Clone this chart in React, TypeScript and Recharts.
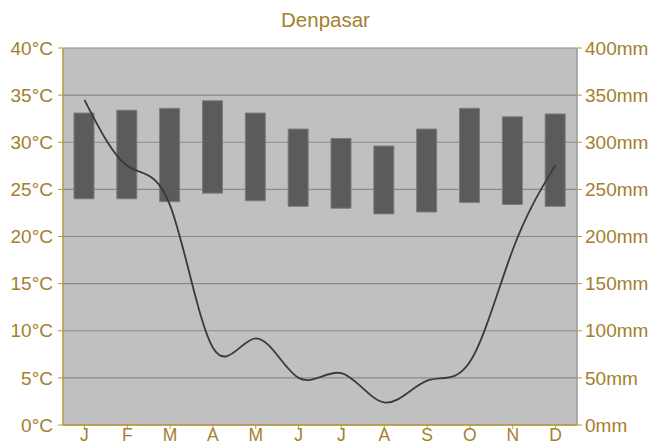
import React from 'react';
import { ComposedChart, Bar, Line, XAxis, YAxis, CartesianGrid } from 'recharts';

const months = ['J', 'F', 'M', 'A', 'M', 'J', 'J', 'A', 'S', 'O', 'N', 'D'];
const tempMax = [33.1, 33.4, 33.6, 34.4, 33.1, 31.4, 30.4, 29.6, 31.4, 33.6, 32.7, 33.0];
const tempMin = [24.0, 24.0, 23.7, 24.6, 23.8, 23.2, 23.0, 22.4, 22.6, 23.6, 23.4, 23.2];
const precipitation = [345, 275, 233, 82, 92, 50, 55, 24, 47, 67, 186, 276];
const tempTicks = [0, 5, 10, 15, 20, 25, 30, 35, 40];
const precipTicks = [0, 50, 100, 150, 200, 250, 300, 350, 400];

const data = months.map((m, i) => ({
  month: m,
  range: [tempMin[i], tempMax[i]],
  precip: precipitation[i],
}));

const GOLD = '#a3802e';
const AXIS = '#b8983f';
const FONT = '"Liberation Sans", Arial, sans-serif';

export default function App() {
  return (
    <div style={{ position: 'absolute', left: 0, top: 0, width: 651, height: 444, fontFamily: FONT }}>
      <div
        style={{
          position: 'absolute',
          left: 0,
          top: 8,
          width: 651,
          textAlign: 'center',
          color: GOLD,
          fontSize: 20.5,
          fontFamily: FONT,
          lineHeight: '24px',
        }}
      >
        Denpasar
      </div>
      <ComposedChart
        width={651}
        height={444}
        data={data}
        margin={{ top: 48, right: 0, bottom: 0, left: 0 }}
        barCategoryGap={0}
      >
        <CartesianGrid
          yAxisId="temp"
          vertical={false}
          fill="#c0c0c0"
          fillOpacity={1}
          stroke="#8a8a8a"
          strokeWidth={1.2}
        />
        <XAxis
          dataKey="month"
          height={19}
          tickSize={4}
          tickMargin={0}
          interval={0}
          axisLine={{ stroke: AXIS, strokeWidth: 1.5 }}
          tickLine={{ stroke: AXIS }}
          tick={{ fill: GOLD, fontSize: 17.5, fontFamily: FONT }}
        />
        <YAxis
          yAxisId="temp"
          orientation="left"
          width={63}
          domain={[0, 40]}
          ticks={tempTicks}
          tickSize={5}
          tickMargin={5}
          tickFormatter={(v) => `${v}°C`}
          axisLine={{ stroke: AXIS, strokeWidth: 1.5 }}
          tickLine={{ stroke: AXIS }}
          tick={{ fill: GOLD, fontSize: 19, fontFamily: FONT }}
        />
        <YAxis
          yAxisId="precip"
          orientation="right"
          width={74}
          domain={[0, 400]}
          ticks={precipTicks}
          tickSize={5}
          tickMargin={3}
          tickFormatter={(v) => `${v}mm`}
          axisLine={{ stroke: '#9a9a9a', strokeWidth: 1.5 }}
          tickLine={{ stroke: AXIS }}
          tick={{ fill: GOLD, fontSize: 19, fontFamily: FONT, textAnchor: 'start' }}
        />
        <Bar
          yAxisId="temp"
          dataKey="range"
          barSize={20}
          fill="#5b5b5b"
          stroke="#7c7c7c"
          strokeWidth={1}
          isAnimationActive={false}
        />
        <Line
          yAxisId="precip"
          dataKey="precip"
          type="natural"
          stroke="#3a3a3a"
          strokeWidth={1.8}
          dot={false}
          activeDot={false}
          isAnimationActive={false}
        />
      </ComposedChart>
    </div>
  );
}
